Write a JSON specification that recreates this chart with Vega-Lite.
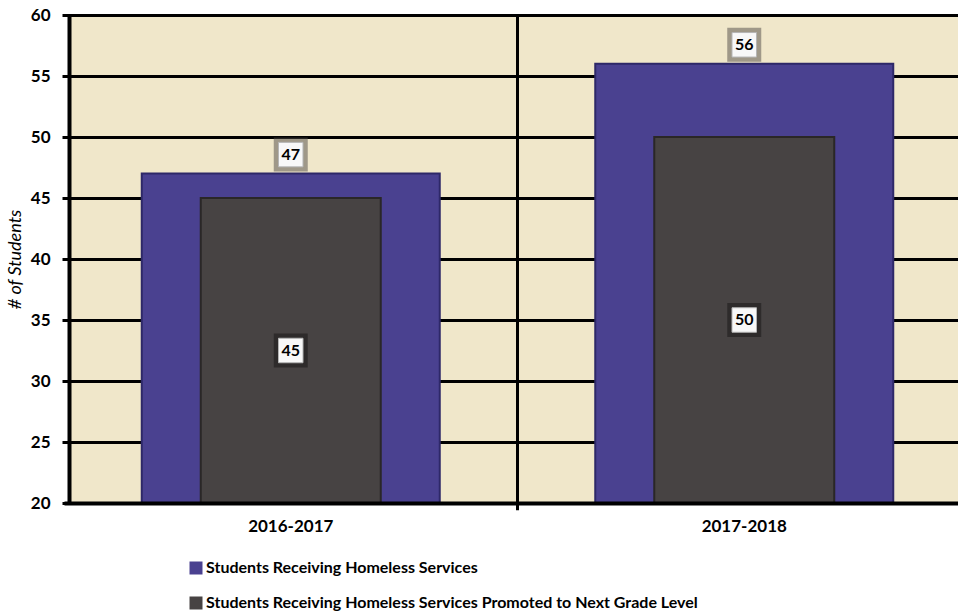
{
  "$schema": "https://vega.github.io/schema/vega-lite/v6.json",
  "width": 889,
  "height": 488,
  "autosize": {"type": "none"},
  "padding": {"left": 69, "top": 15, "right": 0, "bottom": 113},
  "background": "white",
  "config": {"view": {"stroke": null, "fill": "#f0e7ca"}, "font": "Lato"},
  "data": {"values": [
    {"year": "2016-2017", "series": "Students Receiving Homeless Services", "value": 47},
    {"year": "2016-2017", "series": "Students Receiving Homeless Services Promoted to Next Grade Level", "value": 45},
    {"year": "2017-2018", "series": "Students Receiving Homeless Services", "value": 56},
    {"year": "2017-2018", "series": "Students Receiving Homeless Services Promoted to Next Grade Level", "value": 50}
  ]},
  "resolve": {"scale": {"y": "independent"}},
  "layer": [
    {
      "layer": [
        {
          "transform": [{"filter": "datum.series == 'Students Receiving Homeless Services'"}],
          "mark": {"type": "bar", "size": 298, "stroke": "#2e2868", "strokeWidth": 2},
          "encoding": {
            "x": {"field": "year", "type": "nominal", "sort": null,
              "scale": {"range": [-5, 902], "paddingInner": 0, "paddingOuter": 0},
              "axis": {"title": null, "labelAngle": 0, "ticks": false, "domainColor": "black", "domainWidth": 4, "labelFontSize": 17, "labelFontWeight": "bold", "labelColor": "black", "labelPadding": 15, "zindex": 1}},
            "y": {"field": "value", "type": "quantitative",
              "scale": {"domain": [20, 60], "zero": false, "nice": false},
              "axis": {"title": "# of Students", "titleFontStyle": "italic", "titleFontWeight": "normal", "titleFontSize": 18, "titleColor": "black", "titlePadding": 6,
                "values": [20, 25, 30, 35, 40, 45, 50, 55, 60], "grid": true, "gridColor": "black", "gridWidth": 3, "gridOpacity": 1,
                "domainColor": "black", "domainWidth": 4, "tickColor": "black", "tickWidth": 3, "tickSize": 7,
                "labelFontSize": 17, "labelFontWeight": "bold", "labelColor": "black", "labelPadding": 12}},
            "y2": {"datum": 20},
            "color": {"field": "series", "type": "nominal",
              "scale": {"domain": ["Students Receiving Homeless Services", "Students Receiving Homeless Services Promoted to Next Grade Level"], "range": ["#4a4190", "#474343"]},
              "legend": {"orient": "none", "legendX": 119, "legendY": 545, "direction": "vertical", "title": null, "symbolType": "square", "symbolSize": 169, "symbolStrokeWidth": 0, "symbolOpacity": 1, "labelFontSize": 16, "labelFontWeight": "bold", "labelColor": "black", "rowPadding": 19, "labelOffset": 2, "labelLimit": 0}}
          }
        },
        {
          "transform": [{"filter": "datum.series != 'Students Receiving Homeless Services'"}],
          "mark": {"type": "bar", "size": 180, "stroke": "#2a2727", "strokeWidth": 2},
          "encoding": {
            "x": {"field": "year", "type": "nominal", "sort": null},
            "y": {"field": "value", "type": "quantitative"},
            "y2": {"datum": 20},
            "color": {"field": "series", "type": "nominal"}
          }
        },
        {
          "transform": [{"filter": "datum.series == 'Students Receiving Homeless Services' && datum.year == '2017-2018'"}],
          "mark": {"type": "rule", "color": "black", "strokeWidth": 3},
          "encoding": {
            "x": {"field": "year", "type": "nominal", "sort": null, "bandPosition": 0},
            "y": {"datum": 60},
            "y2": {"datum": 19.4}
          }
        },
        {
          "transform": [{"filter": "datum.series == 'Students Receiving Homeless Services'"}],
          "mark": {"type": "square", "size": 1156, "fill": "#4d4a45", "opacity": 0.5, "yOffset": -19},
          "encoding": {
            "x": {"field": "year", "type": "nominal", "sort": null},
            "y": {"field": "value", "type": "quantitative"}
          }
        },
        {
          "transform": [{"filter": "datum.series == 'Students Receiving Homeless Services'"}],
          "mark": {"type": "square", "size": 600, "fill": "#f8f8f8", "stroke": "#b5b5b5", "strokeWidth": 1, "opacity": 1, "yOffset": -19},
          "encoding": {
            "x": {"field": "year", "type": "nominal", "sort": null},
            "y": {"field": "value", "type": "quantitative"}
          }
        },
        {
          "transform": [{"filter": "datum.series == 'Students Receiving Homeless Services'"}],
          "mark": {"type": "text", "fontSize": 16, "fontWeight": "bold", "color": "black", "baseline": "middle", "align": "center", "yOffset": -19},
          "encoding": {
            "x": {"field": "year", "type": "nominal", "sort": null},
            "y": {"field": "value", "type": "quantitative"},
            "text": {"field": "value", "type": "quantitative"}
          }
        }
      ]
    },
    {
      "transform": [{"filter": "datum.series != 'Students Receiving Homeless Services'"}],
      "encoding": {
        "x": {"field": "year", "type": "nominal", "sort": null},
        "y": {"field": "value", "type": "quantitative", "scale": {"domain": [20, 100], "zero": false, "nice": false}, "axis": null}
      },
      "layer": [
        {"mark": {"type": "square", "size": 1156, "fill": "#1e1c1c", "opacity": 0.6}},
        {"mark": {"type": "square", "size": 600, "fill": "#f8f8f8", "stroke": "#b5b5b5", "strokeWidth": 1, "opacity": 1}},
        {"mark": {"type": "text", "fontSize": 16, "fontWeight": "bold", "color": "black", "baseline": "middle", "align": "center"},
         "encoding": {"text": {"field": "value", "type": "quantitative"}}}
      ]
    }
  ]
}
